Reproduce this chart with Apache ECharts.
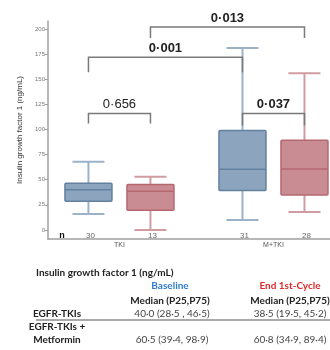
<!DOCTYPE html>
<html>
<head>
<meta charset="utf-8">
<script src="https://cdn.jsdelivr.net/npm/echarts@6/dist/echarts.min.js"></script>
<style>
  html, body { margin: 0; padding: 0; background: #fff; }
  #main { width: 330px; height: 350px; }
</style>
</head>
<body>
<div id="main"></div>
<script>
// Chart data
const categories = ['TKI', 'M+TKI'];
const groupNames = ['Baseline', 'End 1st-Cycle'];
// [lower whisker, Q1, median, Q3, upper whisker] per category
const baselineBoxes = [[16, 28.5, 40.0, 46.5, 68], [10, 39.4, 60.5, 98.9, 181]];
const endCycleBoxes = [[0, 19.5, 38.5, 45.2, 53], [18, 34.9, 60.8, 89.4, 156]];
const baselineCounts = [30, 31];
const endCycleCounts = [13, 28];
const yTicks = [0, 25, 50, 75, 100, 125, 150, 175, 200];

// p-value brackets: [category, group] of both ends, top level, leg end
const pLabels = ['0\u00B7656', '0\u00B7001', '0\u00B7013', '0\u00B7037'];
const pFrom = [[0, 0], [0, 0], [0, 1], [1, 0]];
const pTo = [[0, 1], [1, 0], [1, 1], [1, 1]];
const pLevels = [116, 172, 202, 116];
const pLegEnds = [106, 157, 191, 104];

// Table below the chart
const tableTitle = 'Insulin growth factor 1 (ng/mL)';
const statHeader = 'Median (P25,P75)';
const rowLabels = [['EGFR-TKIs'], ['EGFR-TKIs +', 'Metformin']];
const baselineCells = ['40\u00B70 (28\u00B75 , 46\u00B75)', '60\u00B75 (39\u00B74, 98\u00B79)'];
const endCycleCells = ['38\u00B75 (19\u00B75, 45\u00B72)', '60\u00B78 (34\u00B79, 89\u00B74)'];

// Styles
const groupStyles = [
    { fill: '#8ca4be', border: '#62819f', whisker: '#9bb2c9' },
    { fill: '#c98c92', border: '#b56870', whisker: '#d19ca1' }
];
const groupOffset = 31;
const boxWidth = 47;
const capWidth = 32;
const tableFont = 'Lato, "Liberation Sans", sans-serif';

const chart = echarts.init(document.getElementById('main'));

function boxRenderer(groupIndex) {
    const st = groupStyles[groupIndex];
    return function (params, api) {
        const cat = api.value(0);
        const lo = api.coord([cat, api.value(1)]);
        const q1 = api.coord([cat, api.value(2)]);
        const med = api.coord([cat, api.value(3)]);
        const q3 = api.coord([cat, api.value(4)]);
        const hi = api.coord([cat, api.value(5)]);
        const bottom = api.coord([cat, -9]);
        const cx = lo[0] + (groupIndex === 0 ? -groupOffset : groupOffset);
        const wStyle = { stroke: st.whisker, lineWidth: 2 };
        return {
            type: 'group',
            children: [
                { type: 'line', shape: { x1: cx, y1: hi[1], x2: cx, y2: q3[1] }, style: wStyle },
                { type: 'line', shape: { x1: cx, y1: q1[1], x2: cx, y2: lo[1] }, style: wStyle },
                { type: 'line', shape: { x1: cx - capWidth / 2, y1: hi[1], x2: cx + capWidth / 2, y2: hi[1] }, style: wStyle },
                { type: 'line', shape: { x1: cx - capWidth / 2, y1: lo[1], x2: cx + capWidth / 2, y2: lo[1] }, style: wStyle },
                {
                    type: 'rect',
                    shape: { x: cx - boxWidth / 2, y: q3[1], width: boxWidth, height: q1[1] - q3[1], r: 1 },
                    style: { fill: st.fill, stroke: st.border, lineWidth: 1.5 }
                },
                {
                    type: 'line',
                    shape: { x1: cx - boxWidth / 2, y1: med[1], x2: cx + boxWidth / 2, y2: med[1] },
                    style: { stroke: st.border, lineWidth: 1.5 }
                },
                {
                    type: 'text',
                    style: {
                        text: String(api.value(6)), x: cx + 2, y: bottom[1] - 3,
                        align: 'center', verticalAlign: 'middle',
                        font: '8px "Liberation Sans", Arial, sans-serif', fill: '#666'
                    }
                }
            ]
        };
    };
}

function boxData(boxes, counts) {
    return boxes.map((b, i) => [i].concat(b).concat([counts[i]]));
}

function bracketRenderer(params, api) {
    const i = params.dataIndex;
    const a = api.coord([api.value(0), 0]);
    const b = api.coord([api.value(2), 0]);
    const xa = a[0] + (api.value(1) === 0 ? -groupOffset : groupOffset);
    const xb = b[0] + (api.value(3) === 0 ? -groupOffset : groupOffset);
    const top = api.coord([0, api.value(4)])[1];
    const leg = api.coord([0, api.value(5)])[1];
    const ls = { stroke: '#7a7a7a', lineWidth: 1.5, fill: null };
    return {
        type: 'group',
        children: [
            { type: 'polyline', shape: { points: [[xa, leg], [xa, top], [xb, top], [xb, leg]] }, style: ls },
            {
                type: 'text',
                style: {
                    text: pLabels[i], x: (xa + xb) / 2, y: top - 9,
                    align: 'center', verticalAlign: 'middle',
                    font: (i === 0 ? 'normal' : 'bold') + ' 13px "Liberation Sans", Arial, sans-serif',
                    fill: '#222'
                }
            }
        ]
    };
}

function tableGraphics() {
    const g = [];
    const txt = (text, x, y, opts) => g.push({
        type: 'text', x: x, y: y,
        style: Object.assign({
            text: text, align: 'center', verticalAlign: 'middle',
            font: 'bold 10px ' + tableFont, fill: '#222'
        }, opts || {})
    });
    txt(tableTitle, 36, 273, { align: 'left' });
    txt(groupNames[0], 170, 286, { fill: '#2f7bd0' });
    txt(groupNames[1], 290, 286, { fill: '#e02a2a' });
    txt(statHeader, 170, 301);
    txt(statHeader, 290, 301);
    const rowY = [314, 340];
    rowLabels.forEach((lines, r) => {
        lines.forEach((line, k) => {
            txt(line, 57, rowY[r] - (lines.length - 1 - k) * 13);
        });
        txt(baselineCells[r], 172, rowY[r], { font: '10px ' + tableFont, fill: '#444' });
        txt(endCycleCells[r], 290, rowY[r], { font: '10px ' + tableFont, fill: '#444' });
    });
    g.push({ type: 'line', shape: { x1: 36, y1: 320, x2: 330, y2: 320 }, style: { stroke: '#555', lineWidth: 1 } });
    g.push({
        type: 'text', x: 62, y: 236,
        style: { text: 'n', align: 'center', verticalAlign: 'middle', font: 'bold 9px "Liberation Sans", Arial, sans-serif', fill: '#111' }
    });
    return g;
}

const option = {
    animation: false,
    grid: { left: 48, right: 0, top: 21, bottom: 111 },
    xAxis: {
        type: 'value',
        min: -0.464,
        max: 1.367,
        axisLine: { show: true, onZero: false, lineStyle: { color: '#a0a0a0', width: 1.5 } },
        axisTick: { show: false },
        splitLine: { show: false },
        axisLabel: {
            customValues: [0, 1],
            formatter: v => categories[Math.round(v)],
            fontSize: 7,
            color: '#555',
            margin: 3
        }
    },
    yAxis: {
        type: 'value',
        min: -9,
        max: 208,
        name: 'Insulin growth factor 1 (ng/mL)',
        nameLocation: 'middle',
        nameGap: 22,
        nameTextStyle: { fontSize: 8, color: '#333' },
        axisLine: { show: true, onZero: false, lineStyle: { color: '#a0a0a0', width: 1.5 } },
        axisTick: { show: true, customValues: yTicks, length: 3, lineStyle: { color: '#a0a0a0' } },
        axisLabel: { customValues: yTicks, fontSize: 6, color: '#777', margin: 3 },
        splitLine: { show: false }
    },
    series: [
        {
            name: groupNames[0], type: 'custom', renderItem: boxRenderer(0),
            data: boxData(baselineBoxes, baselineCounts), encode: { x: 0, y: [1, 2, 3, 4, 5] }
        },
        {
            name: groupNames[1], type: 'custom', renderItem: boxRenderer(1),
            data: boxData(endCycleBoxes, endCycleCounts), encode: { x: 0, y: [1, 2, 3, 4, 5] }
        },
        {
            name: 'p', type: 'custom', renderItem: bracketRenderer,
            data: pLabels.map((_, i) => [pFrom[i][0], pFrom[i][1], pTo[i][0], pTo[i][1], pLevels[i], pLegEnds[i]]),
            encode: { x: [0, 2], y: [4, 5] }
        }
    ],
    graphic: tableGraphics()
};

chart.setOption(option);
</script>
</body>
</html>
